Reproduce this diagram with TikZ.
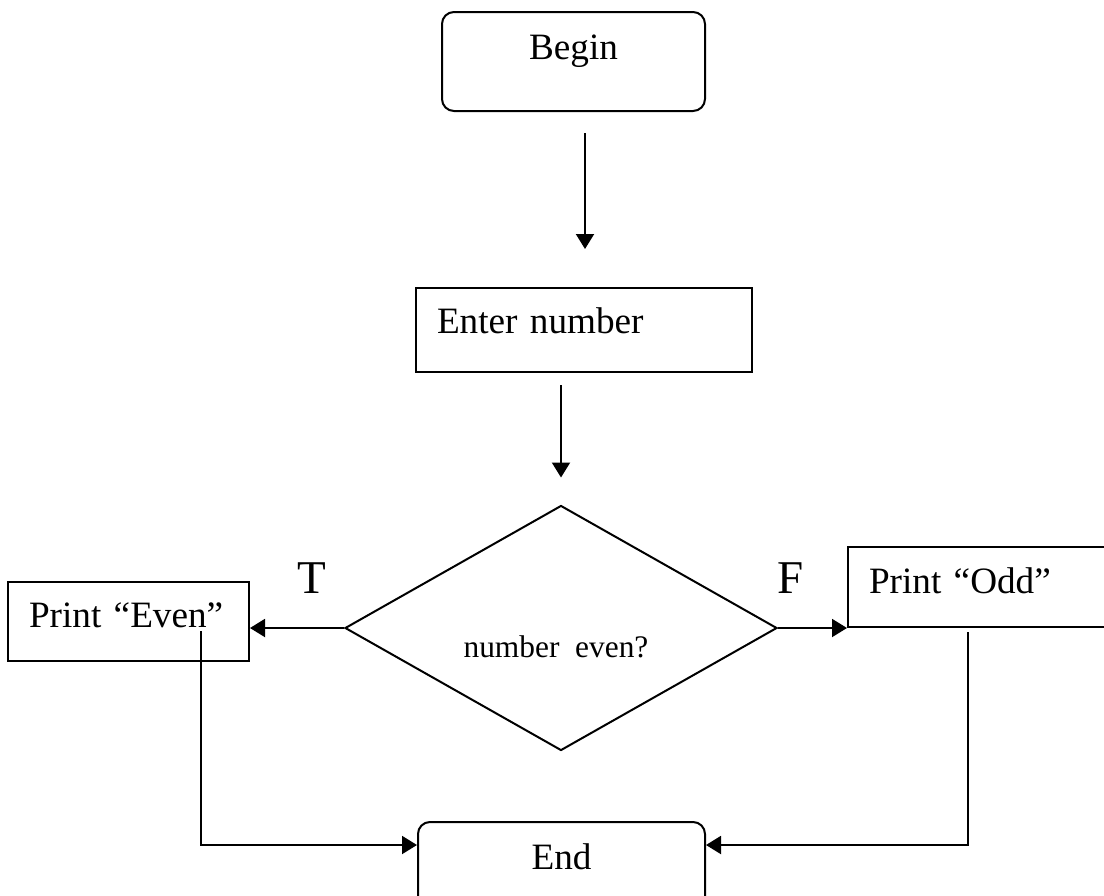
\documentclass[tikz,border=0pt]{standalone}
\usepackage{fontspec}
\setmainfont{Liberation Serif}
\usetikzlibrary{shapes.geometric,arrows.meta}
\begin{document}
\begin{tikzpicture}[x=0.5pt,y=-0.5pt,line width=1pt,
    box/.style={draw,rectangle,inner sep=0pt,font=\fontsize{18.6}{22}\selectfont},
    term/.style={box,rounded corners=6pt},
    flow/.style={-{Triangle[length=7.5pt,width=9pt]}},
    tf/.style={font=\fontsize{23.5}{28}\selectfont}]
  %% page of the scanned sheet (units are pixels)
  \useasboundingbox (0,0) rectangle (1104,895);%
  \node[term,minimum width=131.5pt,minimum height=49.5pt,text height=12pt,text depth=14.5pt] (begin) at (573.5,61.5) {Begin};%
  \node[box,text width=147pt,inner xsep=10.5pt,minimum height=42pt,text height=13pt,text depth=10pt,align=left] (enter) at (584,330) {Enter number};%
  \node[draw,diamond,shape aspect=2,inner sep=0pt,minimum width=216pt,minimum height=122.5pt,
    text height=33pt,text depth=4pt,font=\fontsize{15.7}{18}\selectfont] (decide) at (561,628) {number\ \ even?\hspace*{5pt}};%
  \node[box,text width=99.5pt,inner xsep=10.5pt,minimum height=39.5pt,text height=14pt,text depth=8.5pt,align=left] (even) at (128.5,621.5) {Print “Even”};%
  \node[box,text width=111pt,inner xsep=10.5pt,minimum height=40pt,text height=14pt,text depth=8pt,align=left] (odd) at (980,587) {Print “Odd”};%
  \node[term,minimum width=143.5pt,minimum height=49.5pt,text height=12pt,text depth=14.5pt] (finish) at (561.5,871.5) {End};%
  \node[tf,anchor=base] (tlab) at (312,593) {T};%
  \node[tf,anchor=base] (flab) at (791,593) {F};%

  %% connectors
  \draw[flow] ([xshift=5.75pt,yshift=-10.5pt]begin.south) -- ([xshift=0.5pt,yshift=19pt]enter.north);%
  \draw[flow] ([xshift=-11.5pt,yshift=-6pt]enter.south) -- ([yshift=13.5pt]decide.north);%
  \draw[flow] (decide.west) -- (decide.west -| even.east);%
  \draw[flow] (decide.east) -- (decide.east -| odd.west);%
  \draw[flow] ([xshift=36.25pt,yshift=-4.75pt]even.center) |- ([yshift=13.25pt]finish.west);%
  \draw[flow] ([xshift=-6pt,yshift=-2pt]odd.south) |- ([yshift=13.25pt]finish.east);
\end{tikzpicture}
\end{document}
